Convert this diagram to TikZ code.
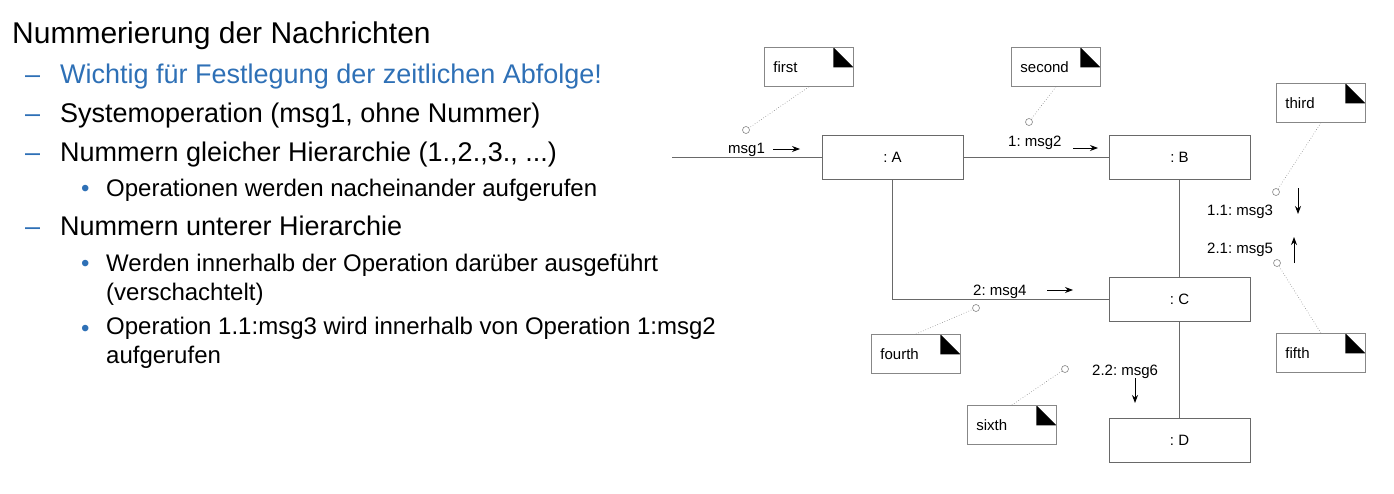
\documentclass[tikz,border=0pt]{standalone}
\usepackage{fontspec}
\setmainfont{Liberation Sans}
\frenchspacing
\usetikzlibrary{arrows.meta,positioning}
\definecolor{slideblue}{RGB}{46,112,182}
\definecolor{linegray}{RGB}{105,105,105}
\definecolor{dotgray}{RGB}{135,135,135}

\begin{document}
\begin{tikzpicture}[x=1pt, y=-1pt,
    obj/.style={draw=linegray, line width=1pt, minimum width=141pt, minimum height=44pt,
      inner sep=0pt, font=\fontsize{15}{18}\selectfont},
    link/.style={draw=linegray, line width=0.9pt},
    notebox/.style={draw=linegray!80, line width=0.8pt, anchor=north west,
      minimum width=89pt, minimum height=39pt, text width=71pt, inner xsep=9pt, inner ysep=0pt,
      align=left, font=\fontsize{15}{18}\selectfont,
      path picture={\fill (path picture bounding box.north east) ++(-20pt,0pt) -- ++(0pt,-20pt) -- ++(20pt,0pt) -- cycle;}},
    hook/.style={circle, draw=dotgray, fill=white, inner sep=0pt, minimum size=7pt, line width=0.6pt},
    noteline/.style={draw=dotgray, dotted, line width=0.6pt},
    msg/.style={anchor=base west, inner sep=0pt, font=\fontsize{15}{18}\selectfont},
    msgarrow/.style={-{Stealth[length=8pt,width=6pt]}, line width=0.9pt},
    lvlone/.style={anchor=base west, inner sep=0pt, font=\fontsize{27}{32}\selectfont},
    lvltwo/.style={anchor=base west, inner sep=0pt, align=left, font=\fontsize{24}{29}\selectfont}]
  \useasboundingbox (0,0) rectangle (1394,493);

  % slide text
  \node[anchor=base west, inner sep=0pt, font=\fontsize{30}{36}\selectfont] (title) at (12,43)
    {Nummerierung der Nachrichten};
  \foreach \y in {83,122,161,235}
    \node[lvlone, text=slideblue] at (25,\y) {–};
  \foreach \y in {196,271,336}
    \node[lvltwo, text=slideblue] at (81,\y) {•};
  \node[lvlone, text=slideblue] (i1) at (60,83) {Wichtig für Festlegung der zeitlichen Abfolge!};
  \node[lvlone] (i2) at (60,122) {Systemoperation (msg1, ohne Nummer)};
  \node[lvlone] (i3) at (60,161) {Nummern gleicher Hierarchie (1.,2.,3., ...)};
  \node[lvltwo] (s1) at (106,196) {Operationen werden nacheinander aufgerufen};
  \node[lvlone] (i4) at (60,235) {Nummern unterer Hierarchie};
  % base of a two-line node sits on its last line
  \node[lvltwo] (s2) at (106,300) {Werden innerhalb der Operation darüber ausgeführt\\(verschachtelt)};
  \node[lvltwo] (s3) at (106,363) {Operation 1.1:msg3 wird innerhalb von Operation 1:msg2\\aufgerufen};

  % objects
  \node[obj] (A) at (892.5,157.5) {: A};
  \node[obj, right=145pt of A] (B) {: B};
  \node[obj, below=97pt of B] (C) {: C};
  \node[obj, below=96pt of C] (D) {: D};

  % links
  \coordinate (entry) at (672,157.5);
  \draw[link] (entry) -- (A);
  \draw[link] (A) -- (B);
  \draw[link] (B) -- (C);
  \draw[link] (C) -- (D);
  \draw[link] (A.south) |- (C.west);

  % messages
  \node[msg] (m1) at (728,153) {msg1};
  \draw[msgarrow] (773,149) -- (800,149);
  \node[msg] (m2) at (1008,146) {1: msg2};
  \draw[msgarrow] (1073,148) -- (1098,148);
  \node[msg] (m3) at (1207,215) {1.1: msg3};
  \draw[msgarrow] (1298,188) -- (1298,214);
  \node[msg] (m4) at (973,295) {2: msg4};
  \draw[msgarrow] (1047,290) -- (1073,290);
  \node[msg] (m5) at (1207,253) {2.1: msg5};
  \draw[msgarrow] (1294,263) -- (1294,237);
  \node[msg] (m6) at (1092,375) {2.2: msg6};
  \draw[msgarrow] (1135,378) -- (1135,403);

  % notes
  \node[notebox] (n1) at (764,47) {first};
  \node[notebox] (n2) at (1011,47) {second};
  \node[notebox] (n3) at (1276,83) {third};
  \node[notebox] (n4) at (871,334) {fourth};
  \node[notebox] (n5) at (1276,333) {fifth};
  \node[notebox] (n6) at (967,405) {sixth};

  % note anchors
  \node[hook] (h1) at (746,130) {};
  \node[hook] (h2) at (1029,122) {};
  \node[hook] (h3) at (1276,192) {};
  \node[hook] (h4) at (976,308) {};
  \node[hook] (h5) at (1277,263) {};
  \node[hook] (h6) at (1065,369) {};
  \draw[noteline] (n1.south) -- (h1);
  \draw[noteline] (n2.south) -- (h2);
  \draw[noteline] (n3.south) -- (h3);
  \draw[noteline] (n4.north) -- (h4);
  \draw[noteline] (n5.north) -- (h5);
  \draw[noteline] (n6.north) -- (h6);
\end{tikzpicture}
\end{document}
